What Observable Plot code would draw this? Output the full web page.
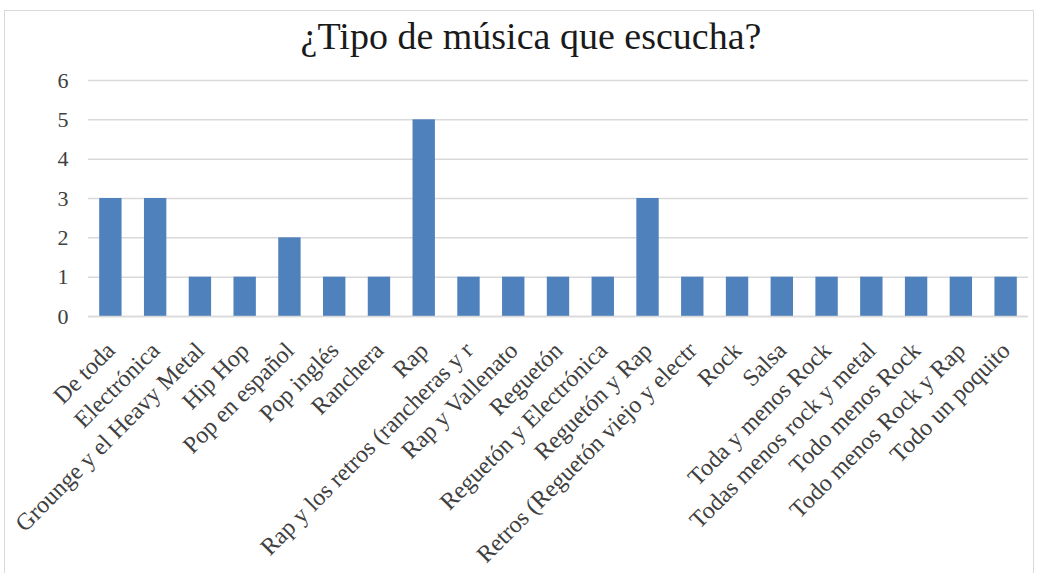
<!DOCTYPE html>
<html>
<head>
<meta charset="utf-8">
<script src="https://cdn.jsdelivr.net/npm/d3@7"></script>
<script src="https://cdn.jsdelivr.net/npm/@observablehq/plot@0.6"></script>
<style>
  html, body { margin: 0; padding: 0; background: #fff; }
  #frame { position: absolute; left: 4px; top: 10px; width: 1030px; height: 570px; border: 1px solid #d9d9d9; box-sizing: border-box; }
  #title { position: absolute; left: 0; top: 14px; width: 1062px; text-align: center; font-family: "Liberation Serif", serif; font-size: 38px; color: #1a1a1a; }
  #chart { position: absolute; left: 0; top: 62px; }
</style>
</head>
<body>
<div id="frame"></div>
<div id="title">¿Tipo de música que escucha?</div>
<div id="chart"></div>
<script>
const categories = [
  "De toda", "Electrónica", "Grounge y el Heavy Metal", "Hip Hop", "Pop en español",
  "Pop inglés", "Ranchera", "Rap", "Rap y los retros (rancheras y r", "Rap y Vallenato",
  "Reguetón", "Reguetón y Electrónica", "Reguetón y Rap", "Retros (Reguetón viejo y electr",
  "Rock", "Salsa", "Toda y menos Rock", "Todas menos rock y metal", "Todo menos Rock",
  "Todo menos Rock y Rap", "Todo un poquito"
];
const counts = [3, 3, 1, 1, 2, 1, 1, 5, 1, 1, 1, 1, 3, 1, 1, 1, 1, 1, 1, 1, 1];
const yTicks = [0, 1, 2, 3, 4, 5, 6];

const data = categories.map((c, i) => ({category: c, count: counts[i]}));

const chart = Plot.plot({
  width: 1039,
  height: 511,
  marginTop: 18,
  marginBottom: 257,
  marginLeft: 88,
  marginRight: 11,
  style: { fontFamily: "Liberation Serif, serif", fontSize: "22px", color: "#404040", background: "transparent" },
  x: { domain: categories, paddingInner: 0.5, paddingOuter: 0.25, round: false, label: null },
  y: { domain: [0, 6], label: null },
  marks: [
    Plot.gridY(yTicks, { stroke: "#d9d9d9", strokeOpacity: 1, strokeWidth: 1.5 }),
    Plot.axisY(yTicks, { tickSize: 0, tickPadding: 20, tickFormat: d3.format("d"), fontSize: 22 }),
    Plot.axisX({ tickSize: 0, tickRotate: -45, tickPadding: 30, fontSize: 24 }),
    Plot.barY(data, { x: "category", y: "count", fill: "#4f81bd" }),
    Plot.ruleY([0], { stroke: "#d9d9d9", strokeWidth: 1.5 })
  ]
});
document.getElementById("chart").appendChild(chart);
</script>
</body>
</html>
